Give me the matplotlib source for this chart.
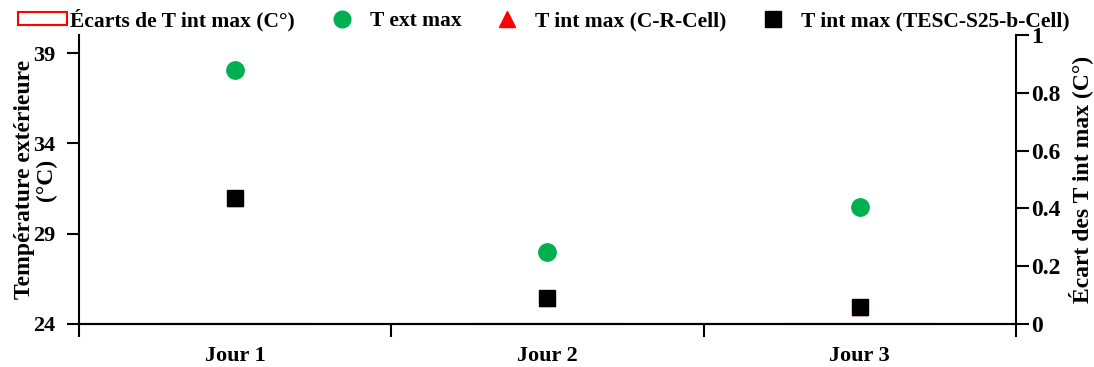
import matplotlib
matplotlib.use("Agg")
import matplotlib.pyplot as plt
from matplotlib.patches import Patch
from matplotlib.lines import Line2D

categories = ["Jour 1", "Jour 2", "Jour 3"]
ecarts = [0.0, 0.0, 0.0]
t_ext_max = [38.05, 28.0, 30.45]
t_int_crc = [31.0, 25.45, 24.95]
t_int_tesc = [30.97, 25.43, 24.93]
left_ticks = [24, 29, 34, 39]
right_ticks = [0, 0.2, 0.4, 0.6, 0.8, 1]
right_ticklabels = ["0", "0.2", "0.4", "0.6", "0.8", "1"]

plt.rcParams['font.family'] = ['Liberation Serif', 'DejaVu Serif']
plt.rcParams['font.weight'] = 'bold'

fig = plt.figure(figsize=(10.94, 3.67), dpi=100)
ax = fig.add_axes([0.0722, 0.1172, 0.9287 - 0.0722, 0.9046 - 0.1172])
ax2 = ax.twinx()

x = list(range(1, len(categories) + 1))

ax2.bar(x, ecarts, width=0.5, facecolor='none', edgecolor='#FF0000', linewidth=1.5, zorder=1)
ax.plot(x, t_ext_max, linestyle='none', marker='o', markersize=12.5, color='#00B050', zorder=3)
ax.plot(x, t_int_crc, linestyle='none', marker='^', markersize=12, color='#FF0000', zorder=3)
ax.plot(x, t_int_tesc, linestyle='none', marker='s', markersize=12, color='black', zorder=4)

ax.set_xlim(0.5, 3.5)
ax.set_ylim(24, 40)
ax2.set_ylim(0, 1.0)
ax.set_yticks(left_ticks)
ax.set_yticklabels([str(t) for t in left_ticks], fontsize=16, fontweight='bold')
ax2.set_yticks(right_ticks)
ax2.set_yticklabels(right_ticklabels, fontsize=17, fontweight='bold')

ax.set_xticks([0.5, 1.5, 2.5, 3.5])
ax.set_xticklabels([])
ax.set_xticks(x, minor=True)
ax.set_xticklabels(categories, minor=True, fontsize=16, fontweight='bold')
ax.tick_params(axis='x', which='minor', length=0, pad=16)
ax.tick_params(axis='x', which='major', length=9, width=1.5, direction='out')
ax.tick_params(axis='y', length=9, width=1.5, direction='out', pad=8)
ax2.tick_params(axis='y', length=9, width=1.5, direction='out', pad=2)

for a in (ax, ax2):
    a.spines['top'].set_visible(False)
    for s in ('left', 'right', 'bottom'):
        a.spines[s].set_linewidth(1.5)
        a.spines[s].set_zorder(10)
ax.spines['right'].set_visible(False)
ax2.spines['left'].set_visible(False)

ax.set_ylabel("Température extérieure\n(°C)", fontsize=17, fontweight='bold', linespacing=1.05)
ax.yaxis.set_label_coords(-0.023, 0.5)
ax2.set_ylabel("Écart des T int max (C°)", fontsize=17, fontweight='bold')
ax2.yaxis.set_label_coords(1.0555, 0.5)

handles = [
    Patch(facecolor='none', edgecolor='#FF0000', linewidth=1.5),
    Line2D([], [], linestyle='none', marker='o', markersize=12, color='#00B050'),
    Line2D([], [], linestyle='none', marker='^', markersize=12, color='#FF0000'),
    Line2D([], [], linestyle='none', marker='s', markersize=12, color='black'),
]
labels = ["Écarts de T int max (C°)", "T ext max", "T int max (C-R-Cell)", "T int max (TESC-S25-b-Cell)"]
fig.legend(handles, labels, loc='center', bbox_to_anchor=(0.497, 0.945), ncol=4, frameon=False,
           prop={'size': 15.5, 'weight': 'bold'}, handlelength=2.3, handleheight=0.55,
           columnspacing=1.0, handletextpad=0.15, borderaxespad=0)

fig.savefig("out.png", dpi=100)
